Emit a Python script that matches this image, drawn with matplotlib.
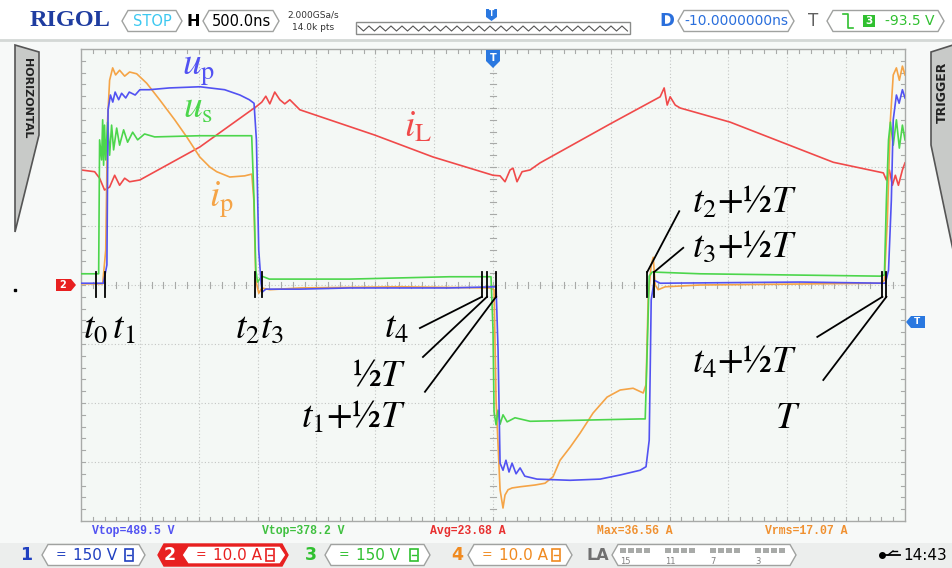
import numpy as np
import matplotlib.pyplot as plt
from matplotlib.patches import Polygon, Rectangle

plt.rcParams['mathtext.fontset'] = 'stix'

# ---- waveform data: time in us (500 ns/div), level in screen divisions ----
t_up = [-3.50, -3.31, -3.28, -3.27, -3.25, -3.23, -3.21, -3.18, -3.155, -3.12, -3.09, -3.04,
        -3.00, -2.92, -2.75, -2.49, -2.28, -2.15, -2.07, -2.03, -2.01, -1.99, -1.97, -1.96,
        -1.93, -1.64, -1.22, -0.37, 0.026, 0.043, 0.06, 0.085, 0.11, 0.136, 0.162, 0.196,
        0.23, 0.27, 0.374, 0.655, 0.91, 1.08, 1.25, 1.30, 1.327, 1.344, 1.37, 1.42, 2.61,
        3.333, 3.36, 3.384, 3.40, 3.427, 3.45, 3.478, 3.50]
v_up = [0.03, 0.03, 0.34, 2.97, 3.22, 3.10, 3.27, 3.14, 3.25, 3.17, 3.27, 3.22,
        3.31, 3.31, 3.34, 3.36, 3.31, 3.22, 3.14, 3.08, 2.46, 0.59, 0.03, -0.12,
        -0.07, -0.07, -0.05, -0.05, -0.03, -1.10, -3.02, -3.14, -2.97, -3.17, -3.02, -3.20,
        -3.10, -3.24, -3.29, -3.31, -3.29, -3.22, -3.14, -3.08, -2.63, -0.25, 0.08, 0.03, 0.05,
        0.03, 0.25, 1.44, 2.80, 3.22, 3.08, 3.31, 3.17]

t_us = [-3.50, -3.35, -3.342, -3.325, -3.316, -3.308, -3.30, -3.29, -3.274, -3.257, -3.24,
        -3.223, -3.197, -3.172, -3.138, -3.104, -3.061, -3.019, -2.96, -2.874, -2.49, -2.05,
        -2.03, -2.015, -2.00, -1.964, -1.90, -1.22, -0.37, -0.017, 0.0, 0.009, 0.026, 0.043,
        0.06, 0.085, 0.12, 0.187, 0.315, 1.25, 1.293, 1.31, 1.327, 1.352, 1.76, 3.29, 3.325,
        3.342, 3.36, 3.376, 3.40, 3.427, 3.452, 3.478, 3.50]
v_us = [0.19, 0.19, 2.46, 2.12, 2.80, 2.03, 2.71, 2.12, 2.76, 2.20, 2.71,
        2.29, 2.66, 2.37, 2.63, 2.42, 2.59, 2.46, 2.56, 2.51, 2.53, 2.53,
        1.44, 0.25, 0.05, 0.15, 0.10, 0.10, 0.14, 0.14, -0.76, -2.15, -2.37, -2.12,
        -2.36, -2.20, -2.32, -2.25, -2.31, -2.27, -2.27, -1.10, 0.15, 0.22, 0.19, 0.15, 0.17,
        1.44, 2.46, 2.76, 2.37, 2.80, 2.32, 2.71, 2.46]

t_ip = [-3.50, -3.316, -3.29, -3.274, -3.257, -3.231, -3.206, -3.172, -3.129, -3.087, -3.027,
        -2.942, -2.832, -2.704, -2.602, -2.491, -2.406, -2.347, -2.236, -2.109, -2.049, -2.032,
        -2.015, -1.99, -1.964, -1.896, -1.64, -0.79, -0.026, 0.009, 0.026, 0.06, 0.085, 0.102,
        0.128, 0.162, 0.23, 0.357, 0.442, 0.51, 0.57, 0.655, 0.74, 0.85, 0.969, 1.08, 1.19,
        1.276, 1.30, 1.318, 1.344, 1.361, 1.378, 1.403, 1.463, 1.76, 3.29, 3.325, 3.35, 3.376,
        3.40, 3.427, 3.452, 3.478, 3.50]
v_ip = [0.02, 0.02, 0.59, 2.80, 3.47, 3.68, 3.56, 3.64, 3.54, 3.61, 3.58,
        3.42, 3.14, 2.80, 2.51, 2.17, 2.00, 1.92, 1.83, 1.85, 1.88, 1.44,
        0.08, -0.14, -0.05, -0.08, -0.05, -0.03, -0.05, -0.08, -1.95, -3.47, -3.78, -3.56,
        -3.47, -3.44, -3.42, -3.39, -3.36, -3.25, -2.97, -2.75, -2.51, -2.17, -1.90, -1.78, -1.75,
        -1.83, -1.69, -0.25, 0.34, 0.47, 0.0, -0.08, -0.03, 0.0, 0.03, 0.08, 1.10, 2.80,
        3.56, 3.68, 3.47, 3.71, 3.56]

t_iL = [-3.50, -3.384, -3.342, -3.30, -3.257, -3.214, -3.172, -3.129, -3.087, -3.00, -2.49,
        -2.007, -1.964, -1.93, -1.896, -1.854, -1.811, -1.769, -1.726, -1.641, -1.003, -0.51,
        0.0, 0.06, 0.102, 0.145, 0.17, 0.204, 0.247, 0.315, 0.40, 0.995, 1.42, 1.454, 1.48,
        1.505, 1.548, 1.59, 2.015, 2.891, 3.316, 3.342, 3.367, 3.393, 3.418, 3.444, 3.478, 3.50]
v_iL = [1.95, 1.92, 1.81, 1.61, 1.66, 1.86, 1.69, 1.81, 1.75, 1.78, 2.34,
        3.03, 3.10, 3.20, 3.07, 3.27, 3.14, 3.07, 3.14, 2.97, 2.54, 2.17,
        1.86, 1.85, 1.75, 1.95, 1.98, 1.75, 1.92, 1.95, 2.07, 2.73, 3.19, 3.34, 3.05,
        3.19, 3.05, 3.00, 2.76, 2.08, 1.90, 1.78, 1.95, 1.69, 1.86, 1.69, 1.95, 2.07]

# switching instants marked on the traces (us)
event_names = ['t0', 't1', 't2', 't3', 't4', 'half', 't1h', 't2h', 't3h', 't4h', 'T']
event_times = [-3.376, -3.299, -2.024, -1.964, -0.094, -0.051, 0.026, 1.310, 1.369, 3.308, 3.342]

measurements = ['Vtop=489.5 V', 'Vtop=378.2 V', 'Avg=23.68 A', 'Max=36.56 A', 'Vrms=17.07 A']

C_UP, C_US, C_IL, C_IP = '#5252f2', '#4cd64c', '#f04a4a', '#f5a446'

W, H = 953, 568
fig = plt.figure(figsize=(W / 100, H / 100), dpi=100, facecolor='#f7f9f8')

# chrome layer in pixel coordinates
ov = fig.add_axes([0, 0, 1, 1], zorder=0)
ov.set_xlim(0, W); ov.set_ylim(H, 0); ov.axis('off')

ax = fig.add_axes([81 / W, 1 - 521 / H, 824 / W, 472 / H], zorder=1)
ax.set_xlim(-3.5, 3.5); ax.set_ylim(-4, 4)
ax.set_facecolor('#f4f8f5')
ax.set_xticks([]); ax.set_yticks([])
for s in ax.spines.values():
    s.set_color('#a8aaa8'); s.set_linewidth(1.0)

top = fig.add_axes([0, 0, 1, 1], zorder=2)
top.set_xlim(0, W); top.set_ylim(H, 0); top.axis('off')
top.patch.set_alpha(0)

# grid
gc = '#c4c6c4'
for i in range(-6, 7):
    ax.axvline(i * 0.5, color=gc, lw=0.8, ls=(0, (1, 2)), zorder=0)
for j in range(-3, 4):
    ax.axhline(j, color=gc, lw=0.8, ls=(0, (1, 2)), zorder=0)
for x in np.arange(-3.4, 3.45, 0.1):
    ax.plot([x, x], [-0.055, 0.055], color='#a8aaa8', lw=0.8, zorder=0)
    ax.plot([x, x], [-4, -3.93], color='#a8aaa8', lw=0.8, zorder=0)
    ax.plot([x, x], [4, 3.93], color='#a8aaa8', lw=0.8, zorder=0)
for y in np.arange(-3.8, 3.85, 0.2):
    ax.plot([-0.026, 0.026], [y, y], color='#a8aaa8', lw=0.8, zorder=0)
    ax.plot([-3.5, -3.466], [y, y], color='#a8aaa8', lw=0.8, zorder=0)
    ax.plot([3.5, 3.466], [y, y], color='#a8aaa8', lw=0.8, zorder=0)

# traces
ax.plot(t_iL, v_iL, color=C_IL, lw=1.2, zorder=2)
ax.plot(t_ip, v_ip, color=C_IP, lw=1.2, zorder=3)
ax.plot(t_us, v_us, color=C_US, lw=1.2, zorder=3)
ax.plot(t_up, v_up, color=C_UP, lw=1.2, zorder=4)

# event marks and leader lines
ev = dict(zip(event_names, event_times))
for name in event_names:
    ax.plot([ev[name], ev[name]], [-0.2, 0.22], color='black', lw=1.3, zorder=5)
leaders = [('t4', (-0.621, -0.73)), ('half', (-0.595, -1.22)), ('t1h', (-0.578, -1.81)),
           ('t4h', (2.755, -0.88)), ('T', (2.806, -1.61))]
for name, (lx, ly) in leaders:
    ax.plot([ev[name], lx], [-0.2, ly], color='black', lw=1.3, zorder=5)
for name, (lx, ly) in [('t2h', (1.582, 1.25)), ('t3h', (1.616, 0.63))]:
    ax.plot([ev[name], lx], [0.22, ly], color='black', lw=1.3, zorder=5)

# labels
fs = 27
serif = 'STIXGeneral'
top.text(182, 75, r'$u_{\mathrm{p}}$', color=C_UP, fontsize=fs, family=serif)
top.text(183, 118, r'$u_{\mathrm{s}}$', color=C_US, fontsize=fs, family=serif)
top.text(404, 137, r'$i_{\mathrm{L}}$', color=C_IL, fontsize=fs, family=serif)
top.text(209, 207, r'$i_{\mathrm{p}}$', color=C_IP, fontsize=fs, family=serif)
top.text(83, 338, r'$t_0\,t_1$', fontsize=fs, family=serif)
top.text(235, 338, r'$t_2t_3$', fontsize=fs, family=serif)
top.text(384, 338, r'$t_4$', fontsize=fs, family=serif)
top.text(406, 385, r'½$T$', fontsize=fs, family=serif, ha='right')
top.text(406, 428, r'$t_1$+½$T$', fontsize=fs, family=serif, ha='right')
top.text(692, 213, r'$t_2$+½$T$', fontsize=fs, family=serif)
top.text(692, 257, r'$t_3$+½$T$', fontsize=fs, family=serif)
top.text(692, 373, r'$t_4$+½$T$', fontsize=fs, family=serif)
top.text(775, 428, r'$T$', fontsize=fs, family=serif)

# trigger position marker (top of grid)
top.add_patch(Polygon([(486, 50), (500, 50), (500, 61), (493, 68), (486, 61)], fc='#2a78e0', ec='none'))
top.text(493, 58, 'T', color='white', fontsize=7, weight='bold', ha='center', va='center')

# ---- top bar ----
ov.add_patch(Rectangle((0, 0), W, 40, fc='white', ec='none'))
ov.plot([0, W], [40, 40], color='#d4d8d6', lw=2)


def chevron(x0, x1, yc, h=21, ec='#a0a2a0', fc='white', lw=1.0, d=6):
    pts = [(x0, yc), (x0 + d, yc - h / 2), (x1 - d, yc - h / 2), (x1, yc), (x1 - d, yc + h / 2), (x0 + d, yc + h / 2)]
    ov.add_patch(Polygon(pts, closed=True, fc=fc, ec=ec, lw=lw))


ov.text(70, 21, 'RIGOL', family='Liberation Serif', weight='bold', fontsize=17.5, color='#1e3ca0', ha='center', va='center')
chevron(122, 182, 21)
ov.text(152, 21, 'STOP', color='#3cc8f0', fontsize=10.5, ha='center', va='center')
ov.text(193, 21, 'H', weight='bold', fontsize=11.5, ha='center', va='center')
chevron(203, 279, 21)
ov.text(241, 21, '500.0ns', fontsize=10.5, ha='center', va='center')
ov.text(313, 15, '2.000GSa/s', fontsize=6.5, ha='center', va='center', color='#333333')
ov.text(313, 28, '14.0k pts', fontsize=6.5, ha='center', va='center', color='#333333')
ov.add_patch(Rectangle((356, 22), 274, 12, fc='white', ec='#8a8c8a', lw=1))
zx = np.arange(358, 628, 5.5)
zy = [26 if k % 2 == 0 else 31 for k in range(len(zx))]
ov.plot(zx, zy, color='#555555', lw=0.8)
ov.add_patch(Polygon([(486, 9), (497, 9), (497, 17), (491.5, 21), (486, 17)], fc='#2a78e0', ec='none'))
ov.text(491.5, 14, 'T', color='white', fontsize=5.5, weight='bold', ha='center', va='center')
ov.text(667, 21, 'D', color='#2a6fdc', weight='bold', fontsize=13, ha='center', va='center')
chevron(678, 794, 21)
ov.text(736, 21, '-10.0000000ns', color='#2a6fdc', fontsize=10, ha='center', va='center')
ov.text(813, 21, 'T', color='#606060', fontsize=12, ha='center', va='center')
chevron(827, 944, 21)
ov.plot([843, 848, 848, 853], [14, 14, 28, 28], color='#30c030', lw=1.2)
ov.add_patch(Rectangle((863, 15), 12, 12, fc='#30c030', ec='none'))
ov.text(869, 21, '3', color='white', fontsize=7.5, weight='bold', ha='center', va='center')
ov.text(910, 21, '-93.5 V', color='#30c030', fontsize=10, ha='center', va='center')

# side tabs
ov.add_patch(Polygon([(15, 45), (39, 52), (39, 135), (15, 232)], fc='#c8cac8', ec='#555555', lw=1.2))
ov.text(27, 98, 'HORIZONTAL', rotation=-90, fontsize=8, weight='bold', ha='center', va='center', color='#222222')
ov.add_patch(Polygon([(953, 45), (931, 52), (931, 145), (953, 250)], fc='#c8cac8', ec='#555555', lw=1.2))
ov.text(942, 92, 'TRIGGER', rotation=90, fontsize=9, weight='bold', ha='center', va='center', color='#222222')
ov.plot([15], [290], marker='s', ms=1.5, color='black')

# channel 2 offset marker and trigger level marker
ov.add_patch(Polygon([(56, 279), (71, 279), (76, 285), (71, 291), (56, 291)], fc='#e82020', ec='none'))
ov.text(63, 285, '2', color='white', fontsize=7, weight='bold', ha='center', va='center')
ov.add_patch(Polygon([(906, 322), (911, 316), (925, 316), (925, 328), (911, 328)], fc='#2a78e0', ec='none'))
ov.text(917, 322, 'T', color='white', fontsize=6.5, weight='bold', ha='center', va='center')

# measurement row
mcols = [C_UP, '#40c040', '#e83030', '#f09030', '#f09030']
mx = [92, 262, 430, 597, 765]
for txt, x, c in zip(measurements, mx, mcols):
    ov.text(x, 531, txt, color=c, fontsize=8.3, family='Liberation Mono', weight='bold', ha='left', va='center')

# bottom status bar
ov.add_patch(Rectangle((0, 543), W, 25, fc='#eceeed', ec='none'))


def chan(num, x_num, x0, x1, color, txt, active=False):
    if active:
        chevron(x0 - 24, x1 + 2, 555, h=22, fc=color, ec=color)
        ov.text(x_num, 555, num, color='white', fontsize=12.5, weight='bold', ha='center', va='center')
        chevron(x0, x1, 555, h=18, ec=color)
    else:
        ov.text(x_num, 555, num, color=color, fontsize=12.5, weight='bold', ha='center', va='center')
        chevron(x0, x1, 555, h=21)
    ov.text(x0 + 14, 555, '=', color=color, fontsize=9, ha='left', va='center')
    ov.text(x0 + 31, 555, txt, color=color, fontsize=11, ha='left', va='center')
    ov.add_patch(Rectangle((x1 - 20, 549), 8, 12, fc='none', ec=color, lw=1.2))
    ov.plot([x1 - 18, x1 - 14], [555, 555], color=color, lw=1)


chan('1', 26, 42, 145, '#2040c0', '150 V')
chan('2', 170, 182, 286, '#e82020', '10.0 A', active=True)
chan('3', 311, 325, 430, '#30c030', '150 V')
chan('4', 457, 468, 572, '#f08a20', '10.0 A')
ov.text(598, 555, 'LA', color='#707070', fontsize=11.5, weight='bold', ha='center', va='center')
chevron(612, 796, 555, h=21)
for g, lab in enumerate(['15', '11', '7', '3']):
    gx = 620 + g * 45
    for k in range(4):
        ov.add_patch(Rectangle((gx + k * 8, 548), 6, 5, fc='#a8aaa8', ec='none'))
    ov.text(gx, 561, lab, color='#808080', fontsize=6, ha='left', va='center')
ov.plot([882, 900], [555, 555], color='black', lw=1.3)
ov.plot([882], [555], marker='o', ms=4, color='black')
ov.plot([888, 893], [555, 551], color='black', lw=1)
ov.plot([893, 897], [551, 551], color='black', lw=1)
ov.text(925, 555, '14:43', fontsize=11, ha='center', va='center')

fig.savefig('out.png', dpi=100, facecolor=fig.get_facecolor())
